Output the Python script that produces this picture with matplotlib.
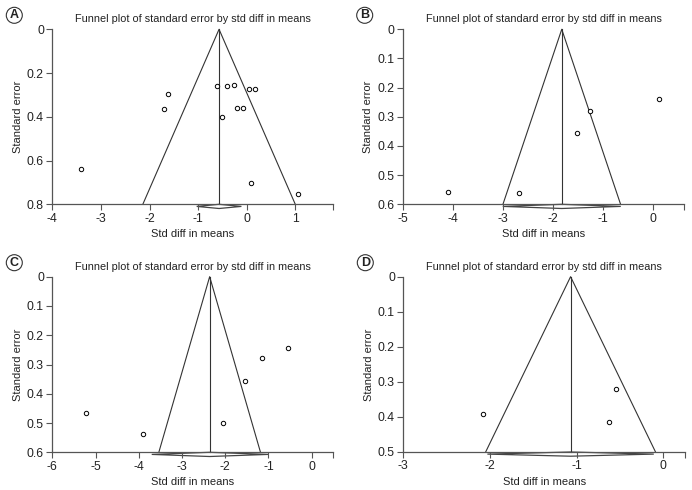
import numpy as np
import matplotlib
matplotlib.use("Agg")
import matplotlib.pyplot as plt
from matplotlib.patches import Polygon, Circle

plt.rcParams['font.family'] = ['Liberation Sans', 'DejaVu Sans']

# panel A
smd_a = [-3.41, -1.63, -1.70, -0.61, -0.41, -0.27, -0.50, -0.21, -0.08, 0.05, 0.16, 0.08, 1.05]
se_a = [0.637, 0.294, 0.366, 0.261, 0.261, 0.254, 0.402, 0.361, 0.361, 0.274, 0.271, 0.704, 0.753]
pooled_a = [-0.57, -1.03, -0.11]  # estimate, lower, upper

# panel B
smd_b = [-4.10, -2.67, -1.51, -1.26, 0.13]
se_b = [0.559, 0.562, 0.354, 0.279, 0.239]
pooled_b = [-1.82, -3.00, -0.64]

# panel C
smd_c = [-5.23, -3.90, -2.06, -1.54, -1.16, -0.54]
se_c = [0.467, 0.536, 0.500, 0.355, 0.278, 0.243]
pooled_c = [-2.36, -3.70, -1.01]

# panel D
smd_d = [-2.08, -0.55, -0.63]
se_d = [0.393, 0.320, 0.415]
pooled_d = [-1.07, -2.03, -0.11]

panels = [
    ('A', smd_a, se_a, pooled_a, [-4, -3, -2, -1, 0, 1], 1.78, [0, 0.2, 0.4, 0.6, 0.8]),
    ('B', smd_b, se_b, pooled_b, [-5, -4, -3, -2, -1, 0], 0.63, [0, 0.1, 0.2, 0.3, 0.4, 0.5, 0.6]),
    ('C', smd_c, se_c, pooled_c, [-6, -5, -4, -3, -2, -1, 0], 0.50, [0, 0.1, 0.2, 0.3, 0.4, 0.5, 0.6]),
    ('D', smd_d, se_d, pooled_d, [-3, -2, -1, 0], 0.25, [0, 0.1, 0.2, 0.3, 0.4, 0.5]),
]

W, H = 692, 490
fig = plt.figure(figsize=(W / 100, H / 100), dpi=100)

# pixel boxes: left, top, right, bottom
boxes = [(52.3, 29.3, 333.3, 204.3), (402.7, 29.3, 684.3, 204.3),
         (52.3, 276.7, 333.3, 452.3), (403.3, 276.7, 685.0, 452.0)]

line_col = '#333333'
axis_col = '#555555'

for (letter, smd, se, pooled, xticks, xend, yticks), (l, t, r, b) in zip(panels, boxes):
    ax = fig.add_axes([l / W, 1 - b / H, (r - l) / W, (b - t) / H])
    ymax = yticks[-1]
    ax.set_xlim(xticks[0], xend)
    ax.set_ylim(ymax, 0)

    est, lo, hi = pooled
    # funnel (95% pseudo confidence limits)
    ax.plot([est - 1.96 * ymax, est, est + 1.96 * ymax], [ymax, 0, ymax],
            color=line_col, lw=0.8, clip_on=False)
    ax.plot([est, est], [0, ymax], color=line_col, lw=0.8, clip_on=False)

    # pooled diamond just under the axis
    h = ymax * 0.012
    yc = ymax + h
    diamond = Polygon([[lo, yc], [est, yc - h], [hi, yc], [est, yc + h]], closed=True,
                      fill=False, edgecolor='#444444', lw=0.9, clip_on=False)
    ax.add_patch(diamond)

    ax.scatter(smd, se, s=10, facecolors='white', edgecolors='black', linewidths=0.7,
               zorder=3, clip_on=False)

    for side in ['top', 'right']:
        ax.spines[side].set_visible(False)
    for side in ['left', 'bottom']:
        ax.spines[side].set_color(axis_col)
        ax.spines[side].set_linewidth(0.9)

    ax.set_xticks(xticks + [xend])
    ax.set_xticklabels([str(v) for v in xticks] + [''])
    ax.set_yticks(yticks)
    ax.set_yticklabels(['0' if v == 0 else f'{v:.1f}' for v in yticks])
    ax.tick_params(axis='both', colors=axis_col, labelcolor='#222222', labelsize=8.8,
                   length=4, width=0.8, pad=2)

    ax.set_xlabel('Std diff in means', fontsize=8, color='#222222', labelpad=3)
    ax.set_ylabel('Standard error', fontsize=8, color='#222222', labelpad=3)
    ax.set_title('Funnel plot of standard error by std diff in means', fontsize=7.8,
                 color='#222222', pad=5)

    # circled panel letter
    cx = (l - 38) / W
    cy = 1 - (t - 14) / H
    fig.patches.append(Circle((cx * W, cy * H), 8, transform=None, fill=False,
                              edgecolor='#333333', lw=0.8))
    fig.text(cx, cy, letter, ha='center', va='center', fontsize=9, fontweight='bold',
             color='#222222')

fig.savefig('out.png', dpi=100)
